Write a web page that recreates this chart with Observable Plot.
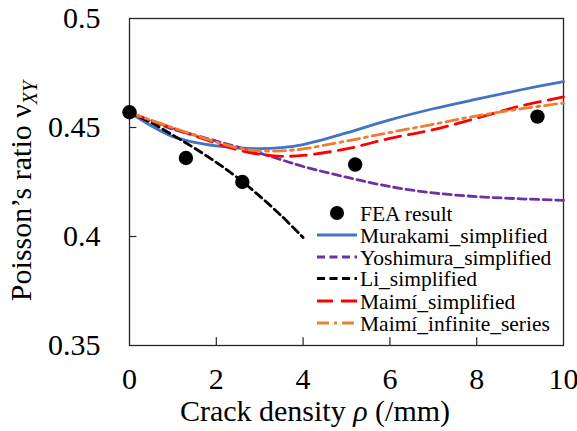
<!DOCTYPE html>
<html>
<head>
<meta charset="utf-8">
<script src="https://cdn.jsdelivr.net/npm/d3@7"></script>
<script src="https://cdn.jsdelivr.net/npm/@observablehq/plot@0.6"></script>
<style>
  html, body { margin: 0; padding: 0; background: #fff; }
  svg { display: block; }
</style>
</head>
<body>
<div id="chart"></div>
<script>
// ---- data ----
const xTicks = [0, 2, 4, 6, 8, 10];
const yTicks = [0.35, 0.4, 0.45, 0.5];

const feaRho = [0, 1.3, 2.6, 5.2, 9.4];
const feaNu  = [0.457, 0.436, 0.425, 0.433, 0.455];

const rhoGrid   = [0, 0.5, 1, 1.5, 2, 2.5, 3, 3.5, 4, 5, 6, 7, 8, 9, 10];
const murakami  = [0.457, 0.4508, 0.4458, 0.4432, 0.4416, 0.4406, 0.4403, 0.4408, 0.4422, 0.4475, 0.4535, 0.4586, 0.4630, 0.4672, 0.4711];
const yoshimura = [0.457, 0.4530, 0.4492, 0.4465, 0.4438, 0.4410, 0.4382, 0.4352, 0.4321, 0.4272, 0.4229, 0.4200, 0.4183, 0.4173, 0.4166];
const maimiSimp = [0.457, 0.4532, 0.4497, 0.4462, 0.4428, 0.4397, 0.4377, 0.4368, 0.4372, 0.4402, 0.4450, 0.4490, 0.4543, 0.4598, 0.4640];
const maimiInf  = [0.457, 0.4533, 0.4499, 0.4465, 0.4433, 0.4406, 0.4393, 0.4393, 0.4402, 0.4438, 0.4477, 0.4515, 0.4553, 0.4585, 0.4612];

const liRho = [0, 0.5, 1, 1.5, 2, 2.5, 3, 3.5, 4];
const liNu  = [0.457, 0.4522, 0.4465, 0.4405, 0.4340, 0.4268, 0.4185, 0.4095, 0.3995];

const seriesNames = ["FEA result", "Murakami_simplified", "Yoshimura_simplified", "Li_simplified", "Maimí_simplified", "Maimí_infinite_series"];

// ---- build tables ----
const toRows = (xs, ys) => xs.map((x, i) => ({rho: x, nu: ys[i]}));
const fea = toRows(feaRho, feaNu);
const mur = toRows(rhoGrid, murakami);
const yos = toRows(rhoGrid, yoshimura);
const li  = toRows(liRho, liNu);
const msi = toRows(rhoGrid, maimiSimp);
const mif = toRows(rhoGrid, maimiInf);

const FONT = "Liberation Serif";
const AXIS_FS = 30;
const styles = {
  mur: {stroke: "#4472C4", width: 2.8, dash: null},
  yos: {stroke: "#7030A0", width: 2.8, dash: "8,4.5"},
  li:  {stroke: "#000000", width: 2.8, dash: "8,4.5"},
  msi: {stroke: "#FF0000", width: 2.8, dash: "16,8"},
  mif: {stroke: "#ED7D31", width: 2.8, dash: "12,5,3,5"}
};
const lineMark = (rows, s) => Plot.line(rows, {
  x: "rho", y: "nu", stroke: s.stroke, strokeWidth: s.width,
  strokeDasharray: s.dash || undefined, curve: "catmull-rom"
});

const chart = Plot.plot({
  width: 577,
  height: 431,
  marginLeft: 129,
  marginRight: 14,
  marginTop: 18,
  marginBottom: 86,
  style: {fontFamily: FONT, fontSize: AXIS_FS + "px", background: "#fff", color: "#000"},
  x: {domain: [0, 10]},
  y: {domain: [0.35, 0.5]},
  marks: [
    Plot.frame({stroke: "#262626", strokeWidth: 1.3}),
    Plot.ruleX(xTicks.slice(1, -1), {x: d => d, y1: 0.35, y2: 0.3535, stroke: "#262626", strokeWidth: 1.2}),
    Plot.ruleY(yTicks.slice(1, -1), {y: d => d, x1: 0, x2: 0.17, stroke: "#262626", strokeWidth: 1.2}),
    Plot.axisX({ticks: xTicks, tickSize: 0, tickPadding: 22, tickFormat: d => String(d), fontSize: AXIS_FS, label: null}),
    Plot.axisY({ticks: yTicks, tickSize: 0, tickPadding: 29, tickFormat: d => String(d), fontSize: AXIS_FS, label: null}),
    lineMark(mur, styles.mur),
    lineMark(yos, styles.yos),
    lineMark(li, styles.li),
    lineMark(msi, styles.msi),
    lineMark(mif, styles.mif),
    Plot.dot(fea, {x: "rho", y: "nu", r: 7.2, fill: "#000", stroke: "none"})
  ]
});

document.getElementById("chart").appendChild(chart);

// ---- axis titles & legend ----
const svg = d3.select(chart);

const xt = svg.append("text")
  .attr("x", 315).attr("y", 421)
  .attr("text-anchor", "middle")
  .attr("font-size", AXIS_FS).attr("fill", "#000");
xt.append("tspan").text("Crack density ");
xt.append("tspan").attr("font-style", "italic").text("ρ");
xt.append("tspan").text(" (/mm)");

const yt = svg.append("text")
  .attr("transform", "translate(31,191) rotate(-90)")
  .attr("text-anchor", "middle")
  .attr("font-size", AXIS_FS).attr("fill", "#000");
yt.append("tspan").text("Poisson’s ratio ν");
yt.append("tspan").attr("font-style", "italic").attr("font-size", 20).attr("dy", 6).text("XY");

const legend = svg.append("g").attr("font-size", 21.5).attr("text-anchor", "start");
const rowY = [213, 235, 257, 278.5, 301, 323];
const legendStyles = [null, styles.mur, styles.yos, styles.li, styles.msi, styles.mif];
seriesNames.forEach((name, i) => {
  const y = rowY[i];
  if (i === 0) {
    legend.append("circle").attr("cx", 337).attr("cy", y).attr("r", 7).attr("fill", "#000");
  } else {
    const s = legendStyles[i];
    legend.append("line")
      .attr("x1", 317).attr("x2", 357).attr("y1", y).attr("y2", y)
      .attr("stroke", s.stroke).attr("stroke-width", s.width)
      .attr("stroke-dasharray", s.dash || null);
  }
  legend.append("text").attr("x", 360).attr("y", y).attr("dy", "0.35em")
    .attr("text-anchor", "start").attr("fill", "#000").text(name);
});

// serif face on every text node
svg.attr("font-family", FONT);
svg.selectAll("text, tspan").attr("font-family", FONT);
</script>
</body>
</html>
